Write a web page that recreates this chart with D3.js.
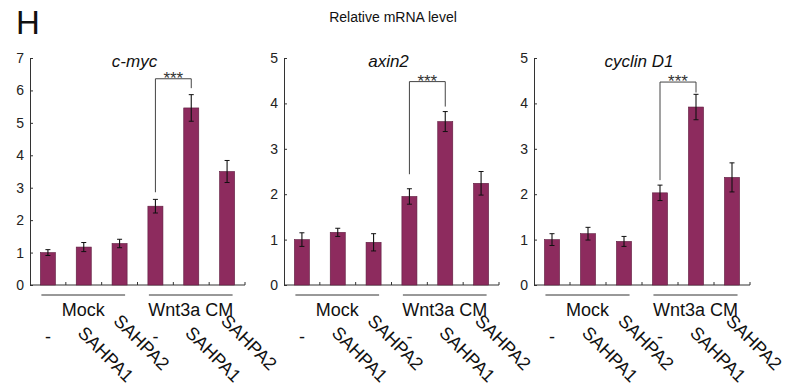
<!DOCTYPE html>
<html>
<head>
<meta charset="utf-8">
<script src="https://cdn.jsdelivr.net/npm/d3@7"></script>
<style>
  body { margin:0; background:#fff; }
  svg { display:block; font-family:"Liberation Sans", Arial, sans-serif; }
</style>
</head>
<body>
<svg id="chart" width="787" height="392"></svg>
<script>
// data
const groups = ['Mock', 'Wnt3a CM'];
const treatments = ['-', 'SAHPA1', 'SAHPA2'];
const categories = ['m0', 'm1', 'm2', 'w0', 'w1', 'w2'];
const genes = ['c-myc', 'axin2', 'cyclin D1'];
const yMaxes = [7, 5, 5];

const cmycMean = [1.0, 1.17, 1.28, 2.43, 5.46, 3.5];
const cmycErr  = [0.09, 0.14, 0.13, 0.21, 0.41, 0.34];
const axinMean = [1.0, 1.16, 0.94, 1.95, 3.6, 2.24];
const axinErr  = [0.15, 0.09, 0.19, 0.17, 0.22, 0.26];
const cycMean  = [1.0, 1.13, 0.96, 2.03, 3.92, 2.37];
const cycErr   = [0.13, 0.14, 0.11, 0.17, 0.28, 0.32];

// significance bracket: top, left leg end, right leg end (data units)
const sigTop   = [6.36, 4.48, 4.47];
const sigLeft  = [2.86, 2.44, 2.31];
const sigRight = [6.07, 3.93, 4.24];

const means = [cmycMean, axinMean, cycMean];
const errs = [cmycErr, axinErr, cycErr];

const svg = d3.select('#chart');
const barColor = '#8d2b5e';

// panel frames (x range of each axis)
const panels = [[30, 245], [284, 499], [534, 750]];
const yTop = 58, yBot = 285;

svg.append('text').attr('x', 16).attr('y', 34).attr('font-size', 33).attr('fill', '#111').text('H');
svg.append('text').attr('x', 393).attr('y', 22).attr('text-anchor', 'middle')
  .attr('font-size', 14).attr('fill', '#111').text('Relative mRNA level');

genes.forEach((gene, i) => {
  const [x0, x1] = panels[i];
  const x = d3.scaleBand().domain(categories).range([x0, x1]).paddingInner(0.58).paddingOuter(0.29);
  const y = d3.scaleLinear().domain([0, yMaxes[i]]).range([yBot, yTop]);
  const g = svg.append('g');
  const bounds = categories.map((c, k) => x0 + (x1 - x0) / 6 * (k + 1));

  // y axis
  const yAx = g.append('g').attr('transform', `translate(${x0},0)`)
    .call(d3.axisLeft(y).ticks(yMaxes[i]).tickSize(-3).tickPadding(6));
  yAx.select('.domain').attr('stroke', '#333');
  yAx.selectAll('.tick line').attr('stroke', '#333');
  yAx.selectAll('text').attr('font-size', 14).attr('fill', '#222').attr('font-family', '"Liberation Sans", Arial, sans-serif');

  // x axis line with small boundary ticks
  g.append('line').attr('x1', x0).attr('x2', x1).attr('y1', yBot).attr('y2', yBot).attr('stroke', '#333');
  g.selectAll('.xt').data(bounds).enter().append('line')
    .attr('x1', d => d).attr('x2', d => d).attr('y1', yBot).attr('y2', yBot - 3).attr('stroke', '#333');

  // bars
  const rows = categories.map((c, k) => ({ c, v: means[i][k], e: errs[i][k] }));
  g.selectAll('.bar').data(rows).enter().append('rect')
    .attr('x', d => x(d.c)).attr('width', x.bandwidth())
    .attr('y', d => y(d.v)).attr('height', d => yBot - y(d.v))
    .attr('fill', barColor).attr('stroke', '#5e1c3e').attr('stroke-width', 0.6);

  // error bars
  const eb = g.selectAll('.err').data(rows).enter().append('g');
  const cx = d => x(d.c) + x.bandwidth() / 2;
  eb.append('line').attr('x1', cx).attr('x2', cx)
    .attr('y1', d => y(d.v + d.e)).attr('y2', d => y(d.v - d.e)).attr('stroke', '#111').attr('stroke-width', 1.1);
  eb.append('line').attr('x1', d => cx(d) - 2.5).attr('x2', d => cx(d) + 2.5)
    .attr('y1', d => y(d.v + d.e)).attr('y2', d => y(d.v + d.e)).attr('stroke', '#111');
  eb.append('line').attr('x1', d => cx(d) - 2.5).attr('x2', d => cx(d) + 2.5)
    .attr('y1', d => y(d.v - d.e)).attr('y2', d => y(d.v - d.e)).attr('stroke', '#111');

  // significance bracket between Wnt3a '-' and SAHPA1
  const bl = cx(rows[3]), br = cx(rows[4]);
  g.append('path')
    .attr('d', `M${bl},${y(sigLeft[i])}V${y(sigTop[i])}H${br}V${y(sigRight[i])}`)
    .attr('fill', 'none').attr('stroke', '#444').attr('stroke-width', 1);
  g.append('text').attr('x', (bl + br) / 2).attr('y', y(sigTop[i]) + 5)
    .attr('text-anchor', 'middle').attr('font-size', 17).attr('fill', '#333').text('***');

  // gene title
  g.append('text').attr('x', (x0 + x1) / 2 - 3).attr('y', 67).attr('text-anchor', 'middle')
    .attr('font-size', 17).attr('font-style', 'italic').attr('fill', '#111').text(gene);

  // group lines and labels
  groups.forEach((grp, gi) => {
    const a = x(categories[gi * 3]) + 1, b = x(categories[gi * 3 + 2]) + x.bandwidth() - 2;
    g.append('line').attr('x1', a).attr('x2', b).attr('y1', 295).attr('y2', 295)
      .attr('stroke', '#333').attr('stroke-width', 1);
    g.append('text').attr('x', (a + b) / 2).attr('y', 316).attr('text-anchor', 'middle')
      .attr('font-size', 18).attr('fill', '#111').text(grp);
  });

  // treatment labels
  categories.forEach((c, k) => {
    const t = treatments[k % 3];
    const px = x(c) + x.bandwidth() / 2;
    if (t === '-') {
      g.append('text').attr('x', px).attr('y', 343).attr('text-anchor', 'middle')
        .attr('font-size', 18).attr('fill', '#111').text(t);
    } else {
      const py = t === 'SAHPA1' ? 334 : 322;
      g.append('text').attr('transform', `translate(${px - 7},${py}) rotate(45)`)
        .attr('font-size', 18).attr('fill', '#111').text(t);
    }
  });
});
</script>
</body>
</html>
